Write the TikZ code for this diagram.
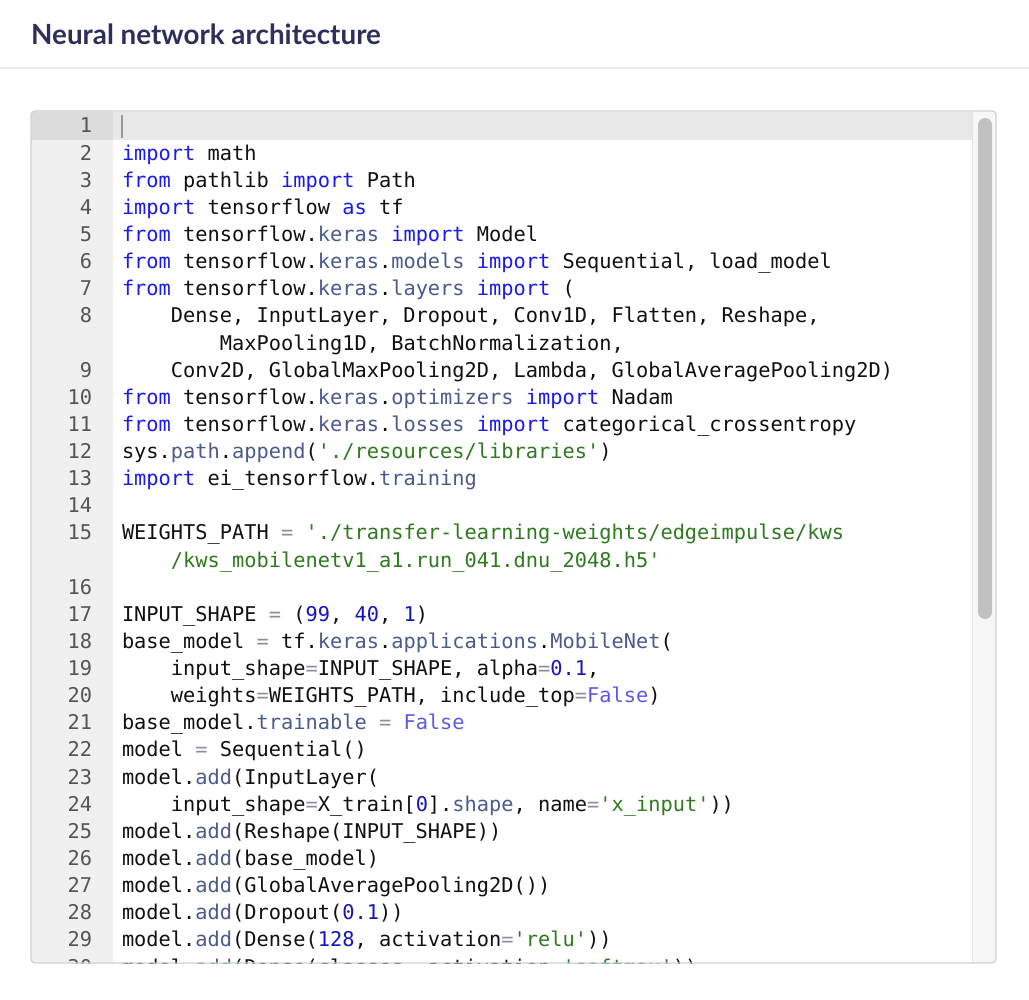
\documentclass[tikz,border=0pt]{standalone}
\usepackage{fontspec}
\setmonofont{DejaVu Sans Mono}
\newfontfamily\hdfont{Lato}
\definecolor{ckwc}{HTML}{1A1AF0}
\definecolor{cprc}{HTML}{4A5B8C}
\definecolor{cstc}{HTML}{2F7A1F}
\definecolor{cnmc}{HTML}{1515C0}
\definecolor{cfac}{HTML}{5B5BE6}
\definecolor{copc}{HTML}{8A8FA0}
\definecolor{txtc}{HTML}{111111}
\definecolor{lnc}{HTML}{555555}
\definecolor{hdc}{HTML}{2E2F5B}
\definecolor{sepc}{HTML}{EDEDF0}
\definecolor{borderc}{HTML}{CDD3DA}
\definecolor{gutterc}{HTML}{F0F0F0}
\definecolor{activec}{HTML}{E8E8E8}
\definecolor{activegc}{HTML}{DCDCDC}
\definecolor{trackc}{HTML}{F7F7F7}
\definecolor{trackb}{HTML}{E4E4E4}
\definecolor{thumbc}{HTML}{C1C1C1}
\newcommand\ckw[1]{\textcolor{ckwc}{#1}}
\newcommand\cpr[1]{\textcolor{cprc}{#1}}
\newcommand\cst[1]{\textcolor{cstc}{#1}}
\newcommand\cnm[1]{\textcolor{cnmc}{#1}}
\newcommand\cfa[1]{\textcolor{cfac}{#1}}
\newcommand\cop{\textcolor{copc}{=}}
\newcommand\q{\char39}
\newcommand\codeline[4]{\node[cl] (#1) at ({122+#3*12.24},{133+(#2-1)*27.13}) {#4};}
\newcommand\lnum[3]{\node[ln] (#1) at (92,{133+(#2-1)*27.13}) {#3};}
\begin{document}
\begin{tikzpicture}[x=1pt,y=-1pt,
  cl/.style={anchor=base west,inner sep=0pt,outer sep=0pt,text=txtc,font=\ttfamily\fontsize{20.33}{27}\selectfont},
  ln/.style={anchor=base east,inner sep=0pt,outer sep=0pt,text=lnc,font=\ttfamily\fontsize{20.33}{27}\selectfont},
  hd/.style={anchor=base west,inner sep=0pt,text=hdc,font=\hdfont\bfseries\fontsize{27.8}{32}\selectfont}]
\useasboundingbox (0,0) rectangle (1029,1000);
\fill[white] (0,0) rectangle (1029,1000);
% header
\node[hd] (title) at (31,45) {Neural network architecture};
\fill[sepc] (0,67) rectangle (1029,69);
% editor
\begin{scope}
\clip[rounded corners=4pt] (31,111) rectangle (996,963);
\fill[white] (31,111) rectangle (996,963);
\fill[gutterc] (31,111) rectangle (113,963);
\fill[activec] (113,112.5) rectangle (972,139.6);
\fill[activegc] (31,112.5) rectangle (113,139.6);
\fill[trackc] (972,111) rectangle (996,963);
\draw[trackb,line width=0.8pt] (972.4,111) -- (972.4,963);
\fill[thumbc,rounded corners=7pt] (978,118) rectangle (992,619);
\draw[gray!80,line width=1.3pt] (122,115) -- (122,138);
% line numbers
\lnum{n1}{1}{1}
\lnum{n2}{2}{2}
\lnum{n3}{3}{3}
\lnum{n4}{4}{4}
\lnum{n5}{5}{5}
\lnum{n6}{6}{6}
\lnum{n7}{7}{7}
\lnum{n8}{8}{8}
\lnum{n9}{10}{9}
\lnum{n10}{11}{10}
\lnum{n11}{12}{11}
\lnum{n12}{13}{12}
\lnum{n13}{14}{13}
\lnum{n14}{15}{14}
\lnum{n15}{16}{15}
\lnum{n16}{18}{16}
\lnum{n17}{19}{17}
\lnum{n18}{20}{18}
\lnum{n19}{21}{19}
\lnum{n20}{22}{20}
\lnum{n21}{23}{21}
\lnum{n22}{24}{22}
\lnum{n23}{25}{23}
\lnum{n24}{26}{24}
\lnum{n25}{27}{25}
\lnum{n26}{28}{26}
\lnum{n27}{29}{27}
\lnum{n28}{30}{28}
\lnum{n29}{31}{29}
\lnum{n30}{32}{30}
% code
\codeline{c2}{2}{0}{\ckw{import} math}
\codeline{c3}{3}{0}{\ckw{from} pathlib \ckw{import} Path}
\codeline{c4}{4}{0}{\ckw{import} tensorflow \ckw{as} tf}
\codeline{c5}{5}{0}{\ckw{from} tensorflow.\cpr{keras} \ckw{import} Model}
\codeline{c6}{6}{0}{\ckw{from} tensorflow.\cpr{keras}.\cpr{models} \ckw{import} Sequential, load\_model}
\codeline{c7}{7}{0}{\ckw{from} tensorflow.\cpr{keras}.\cpr{layers} \ckw{import} (}
\codeline{c8}{8}{4}{Dense, InputLayer, Dropout, Conv1D, Flatten, Reshape,}
\codeline{c8b}{9}{8}{MaxPooling1D, BatchNormalization,}
\codeline{c9}{10}{4}{Conv2D, GlobalMaxPooling2D, Lambda, GlobalAveragePooling2D)}
\codeline{c10}{11}{0}{\ckw{from} tensorflow.\cpr{keras}.\cpr{optimizers} \ckw{import} Nadam}
\codeline{c11}{12}{0}{\ckw{from} tensorflow.\cpr{keras}.\cpr{losses} \ckw{import} categorical\_crossentropy}
\codeline{c12}{13}{0}{sys.\cpr{path}.\cpr{append}(\cst{\q./resources/libraries\q})}
\codeline{c13}{14}{0}{\ckw{import} ei\_tensorflow.\cpr{training}}
\codeline{c15}{16}{0}{WEIGHTS\_PATH \cop{} \cst{\q./transfer-learning-weights/edgeimpulse/kws}}
\codeline{c15b}{17}{4}{\cst{/kws\_mobilenetv1\_a1.run\_041.dnu\_2048.h5\q}}
\codeline{c17}{19}{0}{INPUT\_SHAPE \cop{} (\cnm{99}, \cnm{40}, \cnm{1})}
\codeline{c18}{20}{0}{base\_model \cop{} tf.\cpr{keras}.\cpr{applications}.\cpr{MobileNet}(}
\codeline{c19}{21}{4}{input\_shape\cop{}INPUT\_SHAPE, alpha\cop{}\cnm{0.1},}
\codeline{c20}{22}{4}{weights\cop{}WEIGHTS\_PATH, include\_top\cop{}\cfa{False})}
\codeline{c21}{23}{0}{base\_model.\cpr{trainable} \cop{} \cfa{False}}
\codeline{c22}{24}{0}{model \cop{} Sequential()}
\codeline{c23}{25}{0}{model.\cpr{add}(InputLayer(}
\codeline{c24}{26}{4}{input\_shape\cop{}X\_train[\cnm{0}].\cpr{shape}, name\cop{}\cst{\q x\_input\q}))}
\codeline{c25}{27}{0}{model.\cpr{add}(Reshape(INPUT\_SHAPE))}
\codeline{c26}{28}{0}{model.\cpr{add}(base\_model)}
\codeline{c27}{29}{0}{model.\cpr{add}(GlobalAveragePooling2D())}
\codeline{c28}{30}{0}{model.\cpr{add}(Dropout(\cnm{0.1}))}
\codeline{c29}{31}{0}{model.\cpr{add}(Dense(\cnm{128}, activation\cop{}\cst{\q relu\q}))}
\codeline{c30}{32}{0}{model.\cpr{add}(Dense(classes, activation\cop{}\cst{\q softmax\q}))}
\end{scope}
\draw[borderc,line width=1.3pt,rounded corners=4pt] (31,111) rectangle (996,963);
\end{tikzpicture}
\end{document}
